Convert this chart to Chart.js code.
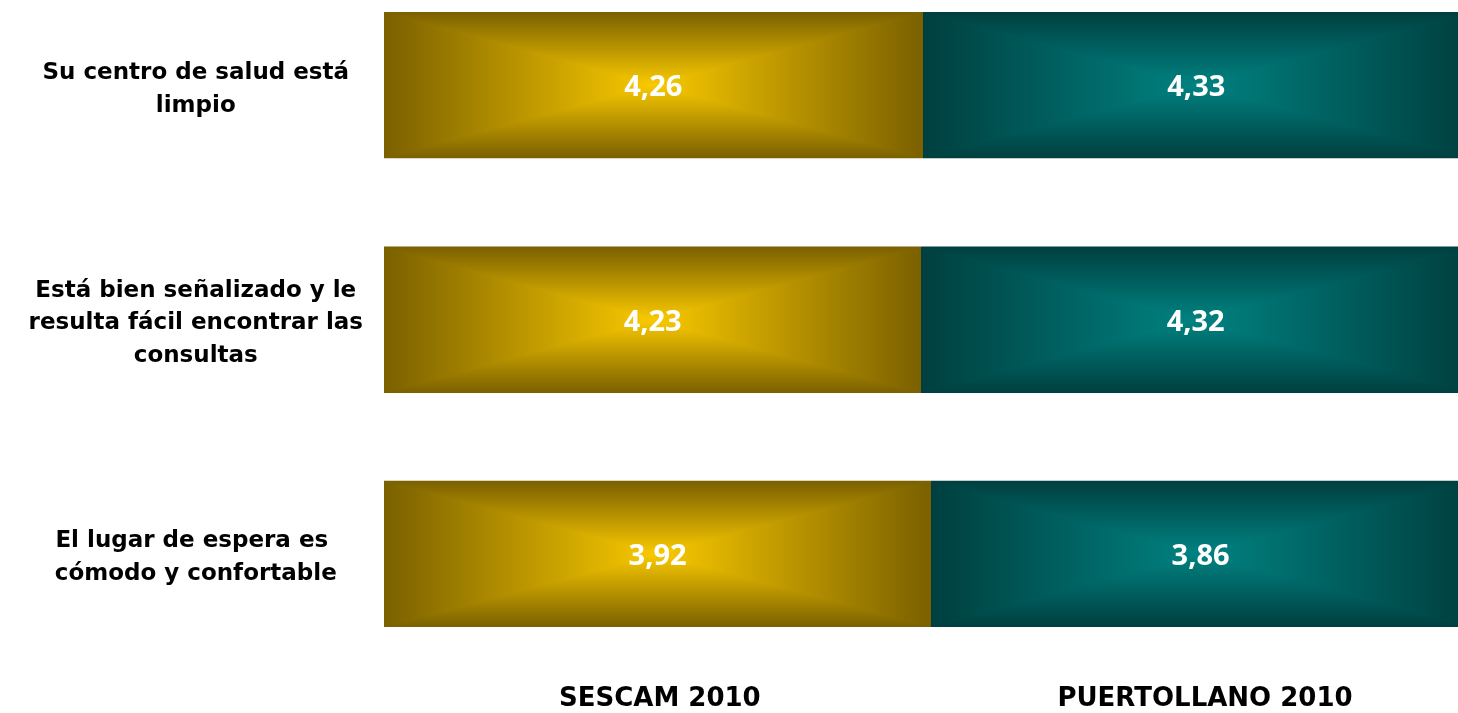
<!DOCTYPE html>
<html lang="es">
<head>
<meta charset="utf-8">
<title>SESCAM / Puertollano 2010</title>
<script src="https://cdn.jsdelivr.net/npm/chart.js@4.4.1/dist/chart.umd.min.js"></script>
<style>
    html, body { margin: 0; padding: 0; background: #fff; overflow: hidden; width: 1458px; height: 713px; }
    /* the original picture is cropped: the plot runs a little past the top and right edges */
    #wrap { position: absolute; left: 0; top: -32px; width: 1470px; height: 745px; }
</style>
</head>
<body>
<div id="wrap"><canvas id="barCanvas"></canvas></div>
<script>
const categories = [
    ["Su centro de salud está", "limpio"],
    ["Está bien señalizado y le", "resulta fácil encontrar las", "consultas"],
    ["El lugar de espera es ", "cómodo y confortable"]
];
const seriesNames = ["SESCAM 2010", "PUERTOLLANO 2010"];
const sescamValues = [4.26, 4.23, 3.92];
const puertollanoValues = [4.33, 4.32, 3.86];

document.addEventListener("DOMContentLoaded", function () {
    if (typeof Chart === "undefined") {
        console.error("Chart.js is not loaded");
        return;
    }

    const barCanvas = document.getElementById("barCanvas");

    // 100% stacked: each bar is split by the share of the two scores
    const totals = sescamValues.map((v, i) => v + puertollanoValues[i]);
    const sescamShare = sescamValues.map((v, i) => v / totals[i] * 100);
    const puertollanoShare = puertollanoValues.map((v, i) => v / totals[i] * 100);

    function hexRgb(h) {
        return [1, 3, 5].map(k => parseInt(h.substr(k, 2), 16));
    }

    // rectangular "path" gradient: dark edges, bright centre (pixel by pixel, no seams)
    function paintRect(ctx, l, t, r, b, edge, centre) {
        const w = Math.round(r - l), h = Math.round(b - t);
        if (w <= 0 || h <= 0) return;
        const off = document.createElement("canvas");
        off.width = w;
        off.height = h;
        const octx = off.getContext("2d");
        const img = octx.createImageData(w, h);
        const e = hexRgb(edge), c = hexRgb(centre);
        const hw = w / 2, hh = h / 2;
        for (let y = 0; y < h; y++) {
            const dy = Math.abs(y + 0.5 - hh) / hh;
            for (let x = 0; x < w; x++) {
                const dx = Math.abs(x + 0.5 - hw) / hw;
                const f = Math.max(dx, dy);
                const k = (y * w + x) * 4;
                img.data[k] = c[0] + (e[0] - c[0]) * f;
                img.data[k + 1] = c[1] + (e[1] - c[1]) * f;
                img.data[k + 2] = c[2] + (e[2] - c[2]) * f;
                img.data[k + 3] = 255;
            }
        }
        octx.putImageData(img, 0, 0);
        ctx.drawImage(off, Math.round(l), Math.round(t));
    }

    const shadePlugin = {
        id: "shade",
        afterDatasetsDraw(chart) {
            const ctx = chart.ctx;
            chart.data.datasets.forEach((ds, di) => {
                const meta = chart.getDatasetMeta(di);
                meta.data.forEach((bar, i) => {
                    const p = bar.getProps(["x", "y", "base", "height"], true);
                    const l = Math.min(p.x, p.base), r = Math.max(p.x, p.base);
                    const t = p.y - p.height / 2, b = p.y + p.height / 2;
                    paintRect(ctx, l, t, r, b, ds.edgeColor, ds.centreColor);

                    ctx.save();
                    ctx.fillStyle = "#ffffff";
                    ctx.font = "bold 29px 'Open Sans'";
                    ctx.textAlign = "center";
                    ctx.textBaseline = "middle";
                    ctx.fillText(ds.values[i].toFixed(2).replace(".", ","), (l + r) / 2, p.y + 3);
                    ctx.restore();
                });
            });
        }
    };

    new Chart(barCanvas, {
        type: "bar",
        plugins: [shadePlugin],
        data: {
            labels: categories,
            datasets: [{
                label: seriesNames[0],
                data: sescamShare,
                values: sescamValues,
                backgroundColor: "#7a6000",
                edgeColor: "#7a6000",
                centreColor: "#f9c900",
                borderWidth: 0
            }, {
                label: seriesNames[1],
                data: puertollanoShare,
                values: puertollanoValues,
                backgroundColor: "#003f3f",
                edgeColor: "#003f3f",
                centreColor: "#008281",
                borderWidth: 0
            }]
        },
        options: {
            indexAxis: "y",
            responsive: true,
            maintainAspectRatio: false,
            animation: false,
            layout: { padding: 0 },
            datasets: {
                bar: { categoryPercentage: 1, barPercentage: 0.623 }
            },
            plugins: {
                legend: { display: false },
                tooltip: { enabled: false }
            },
            scales: {
                x: {
                    stacked: true,
                    min: 0,
                    max: 100,
                    grid: { display: false },
                    border: { display: false },
                    afterFit: scale => {
                        scale.height = 42;
                        scale.paddingLeft = 0;
                        scale.paddingRight = 0;
                    },
                    afterBuildTicks: scale => { scale.ticks = [{ value: 25.4 }, { value: 75.6 }]; },
                    ticks: {
                        padding: 5,
                        color: "#000",
                        font: { family: "'DejaVu Sans'", size: 26, weight: "bold" },
                        callback: (value, index) => seriesNames[index]
                    }
                },
                y: {
                    stacked: true,
                    grid: { display: false, drawTicks: false },
                    border: { display: false },
                    afterFit: scale => {
                        scale.width = 384;
                        scale.paddingTop = 0;
                        scale.paddingBottom = 0;
                    },
                    ticks: {
                        crossAlign: "center",
                        padding: 21,
                        labelOffset: 4,
                        color: "#000",
                        font: { family: "'DejaVu Sans'", size: 23, weight: "bold", lineHeight: 1.43 }
                    }
                }
            }
        }
    });
});
</script>
</body>
</html>
